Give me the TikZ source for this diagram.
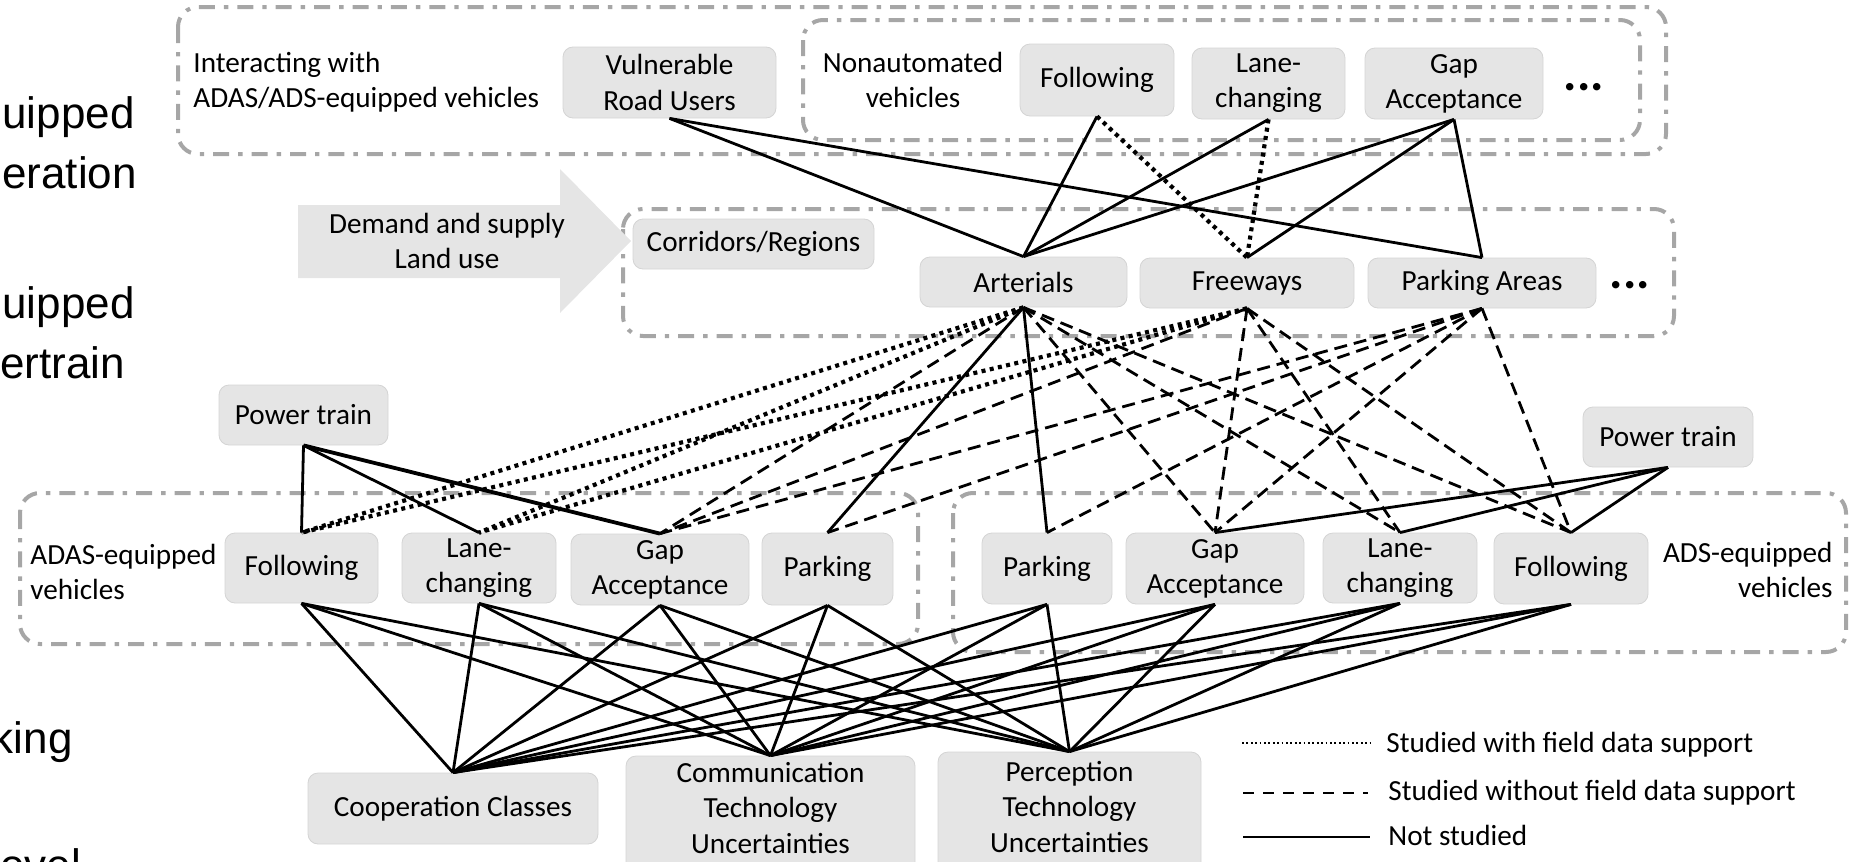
\documentclass[tikz,border=0pt]{standalone}
\usepackage{fontspec}
\setmainfont{Carlito}
\newfontfamily\arialf{Liberation Sans}
\newcommand\myfs{\fontsize{14.6}{17.6}\selectfont}
\newcommand\bigfs{\arialf\fontsize{22}{26}\selectfont}
\begin{document}
\begin{tikzpicture}[x=0.5pt,y=-0.5pt,
  box/.style={draw=black!17, line width=0.4pt, fill=black!10, rounded corners=5pt, inner sep=0pt, align=center, font=\myfs},
  grp/.style={draw=black!35, line width=2pt, dash pattern=on 8pt off 4.5pt on 2.2pt off 4.5pt, rounded corners=10pt},
  sol/.style={line width=1.4pt},
  dsh/.style={line width=1.4pt, dash pattern=on 6.5pt off 3.5pt},
  dtd/.style={line width=2.1pt, dash pattern=on 2pt off 2.2pt},
  lbl/.style={font=\myfs, inner sep=0pt},
  big/.style={font=\bigfs, inner sep=0pt, anchor=base west},
  ell/.style={font=\bfseries\fontsize{25}{30}\selectfont, inner sep=0pt},
  legdot/.style={line width=0.9pt, dash pattern=on 0.9pt off 1.3pt},
  legdsh/.style={line width=1.1pt, dash pattern=on 5.5pt off 4.5pt},
  legsol/.style={line width=1.2pt}]
\useasboundingbox (0,0) rectangle (1849,862);
\clip (0,0) rectangle (1849,862);

% clipped text at the left edge
\node[big] (t1) at (2,128) {uipped};
\node[big] (t2) at (2,188) {eration};
\node[big] (t3) at (2,318) {uipped};
\node[big] (t4) at (0,378) {ertrain};
\node[big, anchor=base east] (t5) at (73,753) {king};
\node[big] (t6) at (0,880) {evel};

% group frames
\draw[grp] (178,7) rectangle (1666,154);
\draw[grp] (803,20) rectangle (1640,140);
\draw[grp] (623,209) rectangle (1674,336);
\draw[grp] (20,493) rectangle (918,644);
\draw[grp] (953,493) rectangle (1846,652);

% big arrow
\fill[black!10] (298,205) -- (560,205) -- (560,169) -- (631,241) -- (560,313) -- (560,278) -- (298,278) -- cycle;
\node[lbl, align=center] (demand) at (447,241) {Demand and supply\\Land use};

% top row
\node[lbl, align=left, anchor=west] (inter) at (193,82) {Interacting with\\ADAS/ADS-equipped vehicles};
\node[box, minimum width=106.5pt, minimum height=35.5pt] (vru) at (669.5,82.5) {Vulnerable\\Road Users};
\node[lbl, align=center] (nonaut) at (913,80) {Nonautomated\\vehicles};
\node[box, minimum width=77pt, minimum height=36pt] (folT) at (1097,80) {Following};
\node[box, minimum width=76.5pt, minimum height=35.5pt] (laneT) at (1268.5,83.5) {Lane-\\changing};
\node[box, minimum width=89pt, minimum height=35.5pt] (gapT) at (1454,83.5) {Gap\\Acceptance};
\node[ell] (dotsT) at (1584,87) {...};

% middle row
\node[box, minimum width=120.5pt, minimum height=25pt] (corr) at (753.5,244) {Corridors/Regions};
\node[box, minimum width=103.5pt, minimum height=25pt] (art) at (1023.5,282) {Arterials};
\node[box, minimum width=107pt, minimum height=25pt] (fwy) at (1247,283) {Freeways};
\node[box, minimum width=114pt, minimum height=25pt] (pa) at (1482,283) {Parking Areas};
\node[ell] (dotsM) at (1630,285) {...};

% power trains
\node[box, minimum width=84.5pt, minimum height=30pt] (powL) at (303.5,415) {Power train};
\node[box, minimum width=85pt, minimum height=30pt] (powR) at (1668,437) {Power train};

% vehicle rows
\node[lbl, align=left, anchor=west] (adas) at (30,572) {ADAS-equipped\\vehicles};
\node[lbl, align=right, anchor=east] (ads) at (1833,570) {ADS-equipped\\vehicles};
\node[box, minimum width=76.5pt, minimum height=35pt] (folL) at (301.5,568) {Following};
\node[box, minimum width=77pt, minimum height=35pt] (laneL) at (479,568) {Lane-\\changing};
\node[box, minimum width=89pt, minimum height=35.5pt] (gapL) at (660,569.5) {Gap\\Acceptance};
\node[box, minimum width=65.5pt, minimum height=36pt] (parkL) at (827.5,569) {Parking};
\node[box, minimum width=65pt, minimum height=35.5pt] (parkR) at (1047,568.5) {Parking};
\node[box, minimum width=89pt, minimum height=35.5pt] (gapR) at (1215,568.5) {Gap\\Acceptance};
\node[box, minimum width=77pt, minimum height=35pt] (laneR) at (1400,568) {Lane-\\changing};
\node[box, minimum width=77pt, minimum height=35.5pt] (folR) at (1571,568.5) {Following};

% bottom row
\node[box, minimum width=145pt, minimum height=35.5pt] (coop) at (453,808.5) {Cooperation Classes};
\node[box, minimum width=144.5pt, minimum height=62pt] (comm) at (770.5,818) {};
\node[lbl, align=center] (commt) at (770.5,808) {Communication\\Technology\\Uncertainties};
\node[box, minimum width=131.5pt, minimum height=64pt] (perc) at (1069.5,816) {};
\node[lbl, align=center] (perct) at (1069.5,807) {Perception\\Technology\\Uncertainties};

% top connectors
\draw[sol] (vru.south) -- (art.north);
\draw[sol] (vru.south) -- (pa.north);
\draw[sol] (folT.south) -- (art.north);
\draw[dtd] (folT.south) -- (fwy.north);
\draw[sol] (laneT.south) -- (art.north);
\draw[dtd] (laneT.south) -- (fwy.north);
\draw[sol] (gapT.south) -- (art.north);
\draw[sol] (gapT.south) -- (fwy.north);
\draw[sol] (gapT.south) -- (pa.north);

% middle connectors
\draw[dtd] (art.south) -- (folL.north);
\draw[dtd] (art.south) -- (laneL.north);
\draw[dtd] (fwy.south) -- (folL.north);
\draw[dtd] (fwy.south) -- (laneL.north);
\draw[dsh] (art.south) -- (gapL.north);
\draw[dsh] (fwy.south) -- (gapL.north);
\draw[dsh] (pa.south) -- (gapL.north);
\draw[dsh] (pa.south) -- (parkL.north);
\draw[dsh] (pa.south) -- (parkR.north);
\draw[dsh] (art.south) -- (gapR.north);
\draw[dsh] (fwy.south) -- (gapR.north);
\draw[dsh] (pa.south) -- (gapR.north);
\draw[dsh] (art.south) -- (laneR.north);
\draw[dsh] (fwy.south) -- (laneR.north);
\draw[dsh] (art.south) -- (folR.north);
\draw[dsh] (fwy.south) -- (folR.north);
\draw[dsh] (pa.south) -- (folR.north);
\draw[sol] (art.south) -- (parkL.north);
\draw[sol] (art.south) -- (parkR.north);

% power train connectors
\draw[sol] (powL.south) -- (folL.north);
\draw[sol] (powL.south) -- (laneL.north);
\draw[sol, line width=1.9pt] (powL.south) -- (gapL.north);
\draw[sol] (powR.south) -- (gapR.north);
\draw[sol] (powR.south) -- (laneR.north);
\draw[sol] (powR.south) -- (folR.north);

% bottom connectors
\foreach \v in {folL,laneL,gapL,parkL,parkR,gapR,laneR,folR}{
  \foreach \b in {coop,comm,perc}{
    \draw[sol] (\v.south) -- (\b.north);
  }
}

% legend
\coordinate (l1a) at (1242,743); \coordinate (l1b) at (1370,743);
\coordinate (l2a) at (1243,793); \coordinate (l2b) at (1368,793);
\coordinate (l3a) at (1243,837); \coordinate (l3b) at (1370,837);
\draw[legdot] (l1a) -- (l1b);
\draw[legdsh] (l2a) -- (l2b);
\draw[legsol] (l3a) -- (l3b);
\node[lbl, anchor=west] (leg1) at (1386,745) {Studied with field data support};
\node[lbl, anchor=west] (leg2) at (1388,793) {Studied without field data support};
\node[lbl, anchor=west] (leg3) at (1388,835) {Not studied};
\end{tikzpicture}
\end{document}
